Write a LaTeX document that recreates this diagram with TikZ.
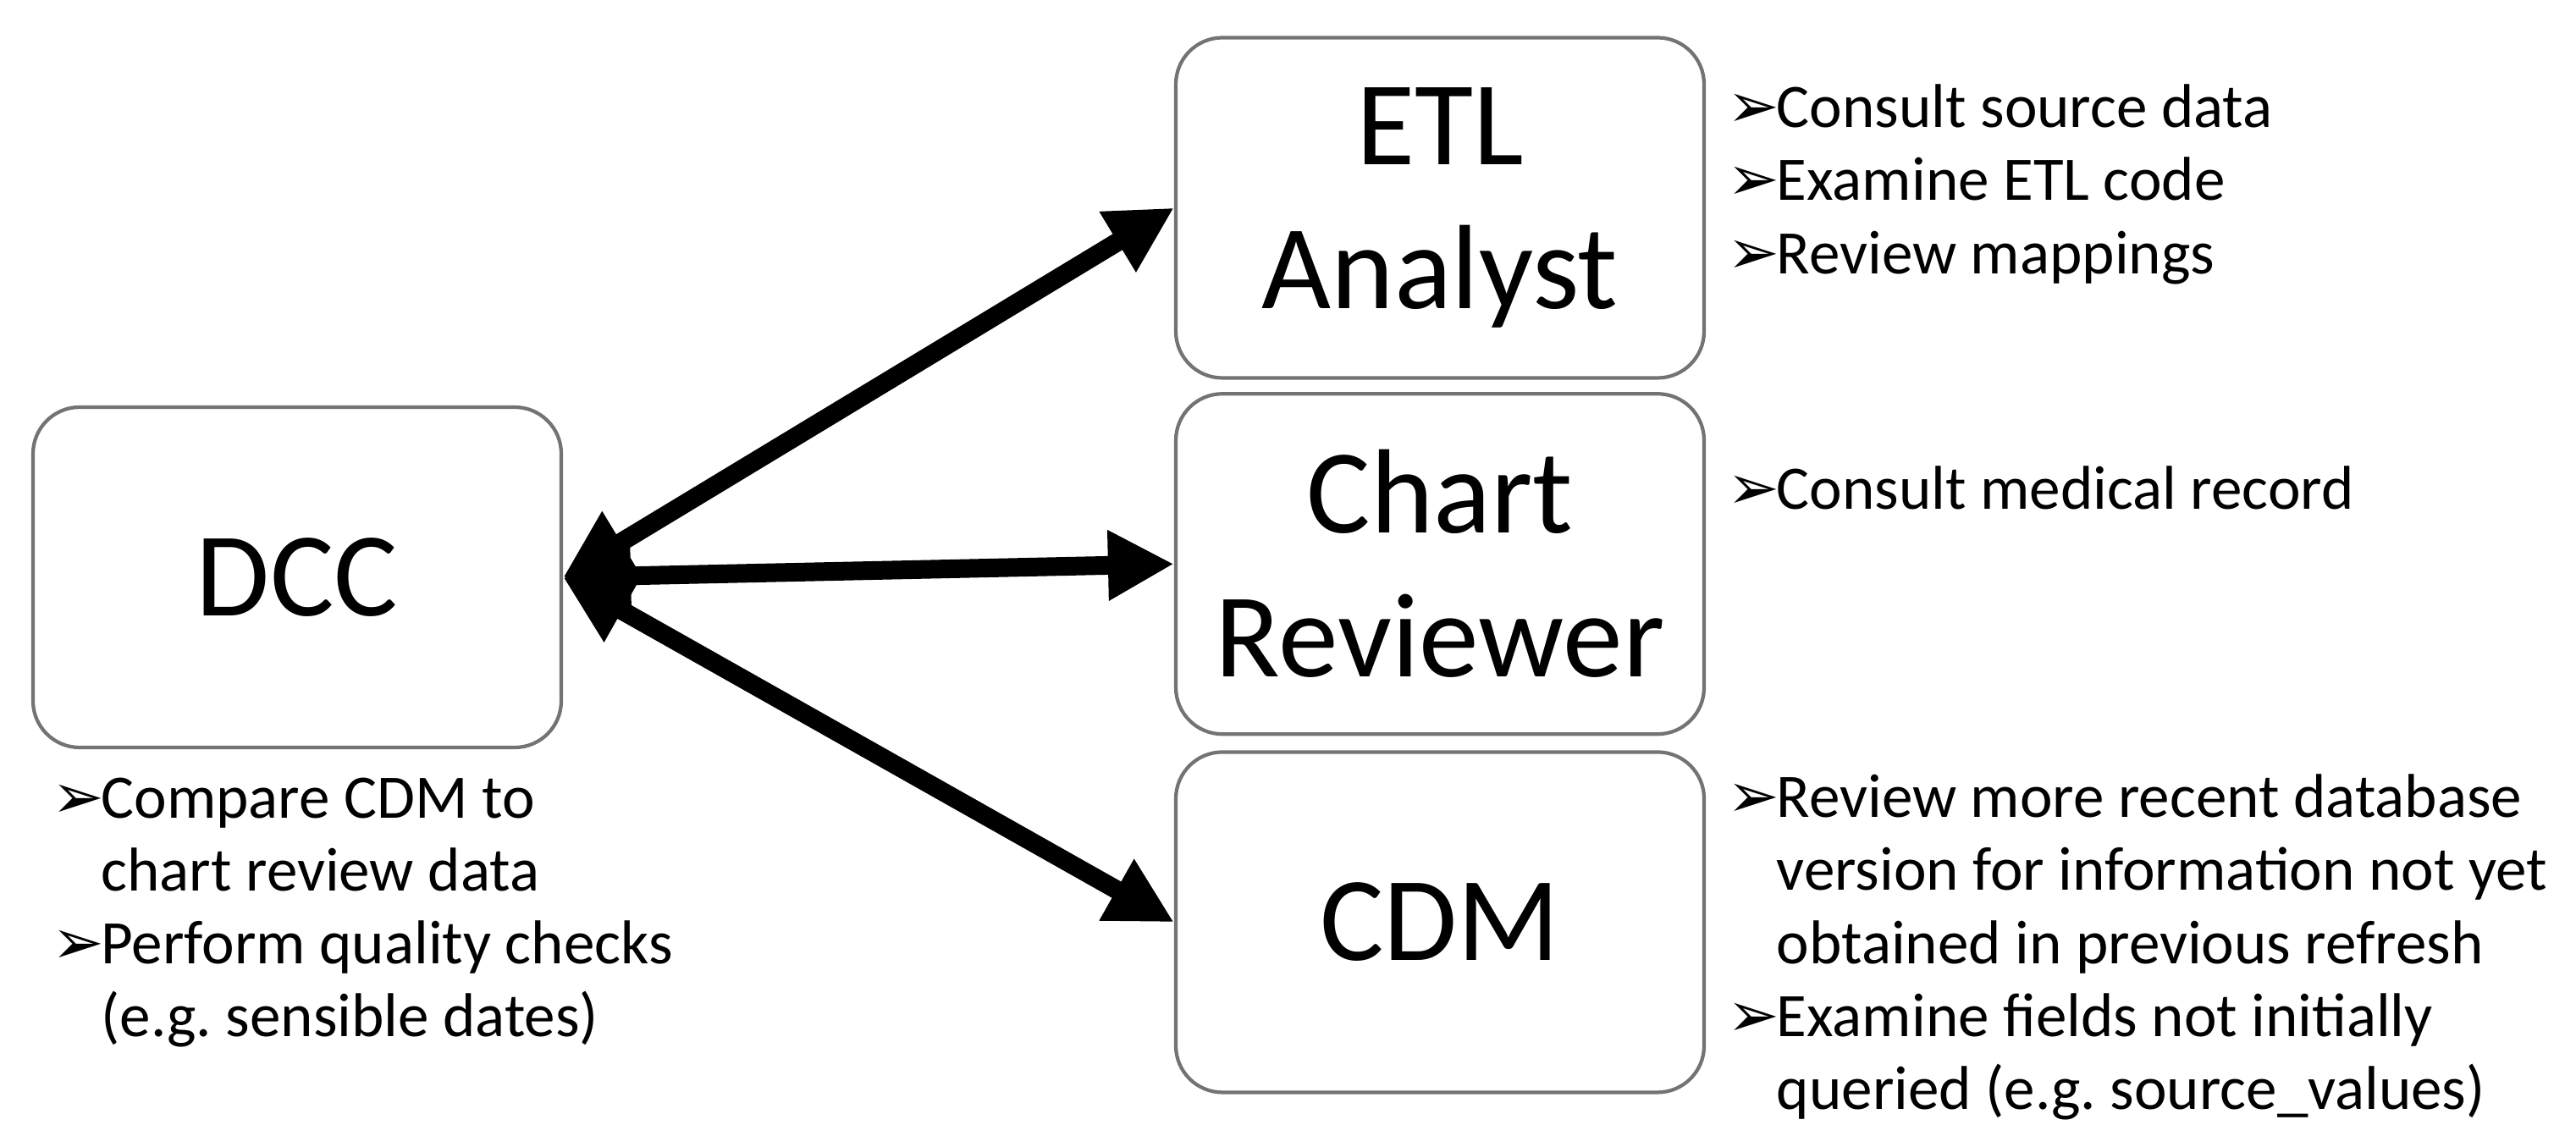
\documentclass[tikz,border=0pt]{standalone}
\usepackage{fontspec}
\setsansfont{Carlito}
\newfontfamily\dingfont{DejaVu Sans}
\usetikzlibrary{positioning,arrows.meta}

\newcommand{\bul}{\makebox[0.58cm][l]{\dingfont\fontsize{21}{21}\selectfont ➢}}
\newcommand{\cont}{\hspace*{0.58cm}}
\frenchspacing

\begin{document}
\begin{tikzpicture}[
  role/.style = {draw = black!55, line width = 1.2pt, shape = rectangle, rounded corners = 0.55cm, minimum width = 6.24cm, minimum height = 4.02cm, align = center, font = \sffamily\fontsize{40.3}{48.4}\selectfont},
  notes/.style = {inner sep = 0pt, align = left, font = \sffamily\fontsize{20.8}{24.5}\selectfont},
  link/.style = {line width = 0.22cm, {Triangle[length = 0.8cm, width = 0.8cm]}-{Triangle[length = 0.78cm, width = 0.78cm]}}
]
\useasboundingbox (0,0) rectangle (30.43,-13.29);

\node[role] (DCC) at (3.51,-6.82) {DCC};
\node[role] (ETL) at (17.01,-2.455) {ETL\\Analyst};
\node[role, below = 0.145cm of ETL] (Chart) {Chart\\Reviewer};
\node[role, below = 0.17cm of Chart] (CDM) {CDM};

% what each role does
\node[notes, below right = 0.33cm and 0.24cm of DCC.south west] (dccnotes)
  {\bul Compare CDM to\\ \cont chart review data\\ \bul Perform quality checks\\ \cont (e.g. sensible dates)};
\node[notes, below right = 0.57cm and 0.25cm of ETL.north east] (etlnotes)
  {\bul Consult source data\\ \bul Examine ETL code\\ \bul Review mappings};
\node[notes, below right = 0.87cm and 0.25cm of Chart.north east] (chartnotes)
  {\bul Consult medical record};
\node[notes, below right = 0.28cm and 0.25cm of CDM.north east] (cdmnotes)
  {\bul Review more recent database\\ \cont version for information not yet\\ \cont obtained in previous refresh\\ \bul Examine fields not initially\\ \cont queried (e.g. source\_values)};

\draw[link] (DCC.east) -- (ETL.west);
\draw[link] (DCC.east) -- (Chart.west);
\draw[link] (DCC.east) -- (CDM.west);
\end{tikzpicture}
\end{document}
